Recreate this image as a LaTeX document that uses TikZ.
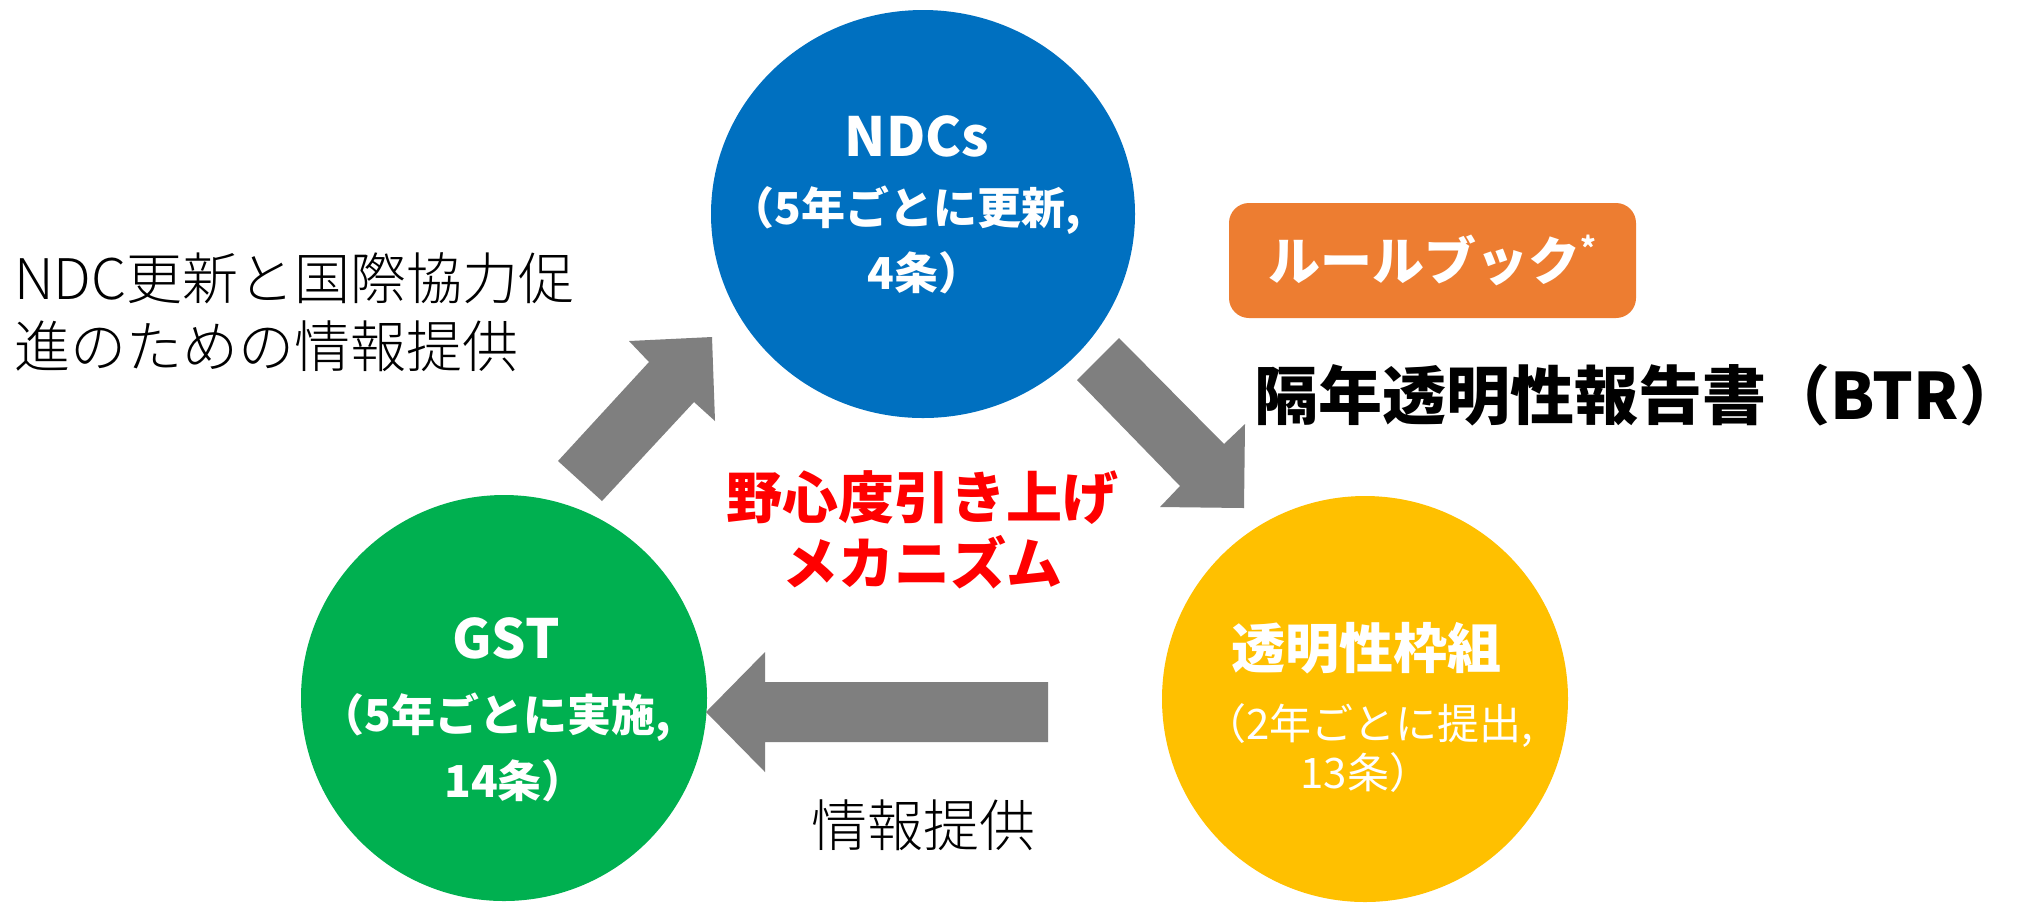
\documentclass[tikz,border=0pt]{standalone}
\usepackage{fontspec}
\setmainfont{Noto Sans CJK JP}
\IfFontExistsTF{Noto Sans CJK JP Light}
  {\newfontfamily\jplight{Noto Sans CJK JP Light}}
  {\IfFontExistsTF{Noto Sans CJK JP DemiLight}
    {\newfontfamily\jplight{Noto Sans CJK JP DemiLight}}
    {\newfontfamily\jplight{Noto Sans CJK JP}}}
\usetikzlibrary{shapes.geometric}
\definecolor{ndcblue}{HTML}{0070C0}
\definecolor{gstgreen}{HTML}{00B050}
\definecolor{tfyellow}{HTML}{FFC000}
\definecolor{rborange}{HTML}{ED7D31}
\definecolor{arrowgray}{HTML}{7F7F7F}
\definecolor{mechred}{HTML}{FF0000}
\begin{document}
\begin{tikzpicture}[x=0.5pt,y=-0.5pt,
  ball/.style={circle, inner sep=0pt, minimum size=203pt},
  blockarrow/.style={fill=arrowgray, draw=none},
  wtitle/.style={text=white, inner sep=0pt, font=\bfseries\fontsize{27}{32}\selectfont},
  wsub/.style={text=white, inner sep=0pt, font=\bfseries\fontsize{22}{26}\selectfont},
  ysub/.style={text=white, inner sep=0pt, font=\fontsize{21}{25}\selectfont},
  plain/.style={text=black, inner sep=0pt, font=\jplight\fontsize{28}{34}\selectfont},
]
\useasboundingbox (0,0) rectangle (2022,902);
\fill[white] (0,0) rectangle (2022,902);

% circles
\node[ellipse, inner sep=0pt, minimum width=212pt, minimum height=204pt, fill=ndcblue] (ndc) at (923,214) {};
\node[ball, fill=gstgreen] (gst) at (504,698) {};
\node[ball, fill=tfyellow] (tf) at (1365,699) {};

% block arrows
\fill[blockarrow] (558,461) -- (649,362) -- (629,341) -- (712,337) -- (715,421) -- (694,402) -- (602,501) -- cycle;
\fill[blockarrow] (1077,380) -- (1119,338) -- (1224,444) -- (1245,424) -- (1244,508) -- (1160,507) -- (1180,486) -- cycle;
\fill[blockarrow] (1048,682) -- (765,682) -- (765,652) -- (706,712) -- (765,772) -- (765,742) -- (1048,742) -- cycle;

% NDC texts
\node[wtitle] (ndct) at (917,136) {NDCs};
\node[wsub] (ndcs1) at (906,210) {（5年ごとに更新,};
\node[wsub] (ndcs2) at (925,273) {4条）};

% GST texts
\node[wtitle] (gstt) at (506,638) {GST};
\node[wsub] (gsts1) at (496,717) {（5年ごとに実施,};
\node[wsub] (gsts2) at (515,781) {14条）};

% transparency framework texts
\node[wtitle] (tft) at (1366,648) {透明性枠組};
\node[ysub, anchor=west] (tfs1) at (1204,725) {（2年ごとに提出,};
\node[ysub, anchor=west] (tfs2) at (1300,773) {13条）};

% rulebook box
\node[fill=rborange, rounded corners=10pt, minimum width=203.5pt, minimum height=57.5pt, inner sep=0pt,
      text=white, font=\bfseries\fontsize{26}{30}\selectfont] (rb) at (1432.5,260.5)
      {ルールブック\raisebox{0.42em}{\fontsize{15}{15}\selectfont *}};

% BTR
\node[text=black, inner sep=0pt, anchor=west, font=\bfseries\fontsize{32}{38}\selectfont] (btr) at (1254,395)
      {隔年透明性報告書（BTR）};

% red mechanism text
\node[text=mechred, inner sep=0pt, align=center, font=\bfseries\fontsize{28}{33}\selectfont] (mech) at (922,530)
      {野心度引き上げ\\メカニズム};

% left text
\node[plain, anchor=west, align=left] (info1) at (14,312)
      {NDC更新と国際協力促\\進のための情報提供};

% bottom text
\node[plain] (info2) at (923,825) {情報提供};
\end{tikzpicture}
\end{document}
